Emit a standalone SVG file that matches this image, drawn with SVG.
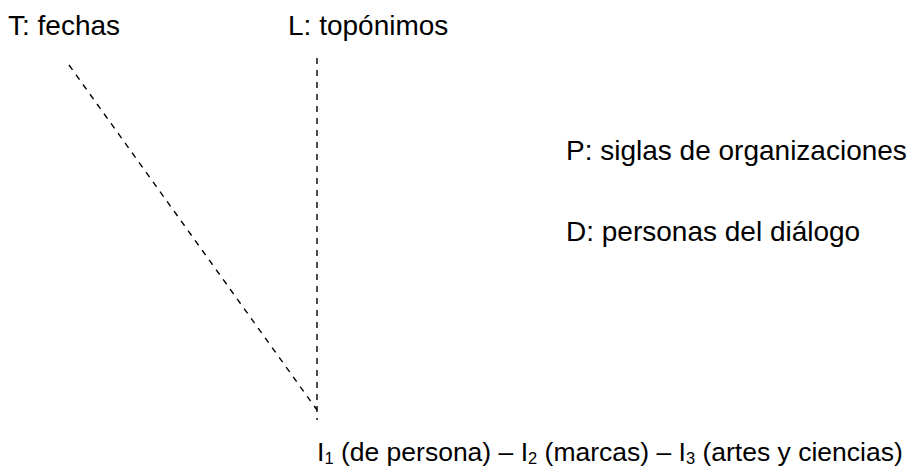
<svg xmlns="http://www.w3.org/2000/svg" width="916" height="468" viewBox="0 0 916 468">
<style>
text{font-family:"Liberation Sans",Arial,sans-serif;font-size:28px;fill:#000}
.bot{font-size:26.5px}
.sub{font-size:16.5px}
.c line{stroke:#000;stroke-width:1.4;stroke-dasharray:6 6;fill:none}
</style>
<rect width="916" height="468" fill="#fff"/>
<g class="c" id="connectors">
<line x1="69" y1="65" x2="317" y2="410"/>
<line x1="317" y1="58" x2="317" y2="420"/>
</g>
<g id="T"><text x="8" y="35">T: fechas</text></g>
<g id="L"><text x="288" y="35">L: topónimos</text></g>
<g id="P"><text x="566" y="160">P: siglas de organizaciones</text></g>
<g id="D"><text x="566" y="241">D: personas del diálogo</text></g>
<g id="I"><text class="bot" x="317" y="461">I<tspan class="sub" dy="3">1</tspan><tspan dy="-3"> (de persona) – I</tspan><tspan class="sub" dy="3">2</tspan><tspan dy="-3"> (marcas) – I</tspan><tspan class="sub" dy="3">3</tspan><tspan dy="-3"> (artes y ciencias)</tspan></text></g>
</svg>
